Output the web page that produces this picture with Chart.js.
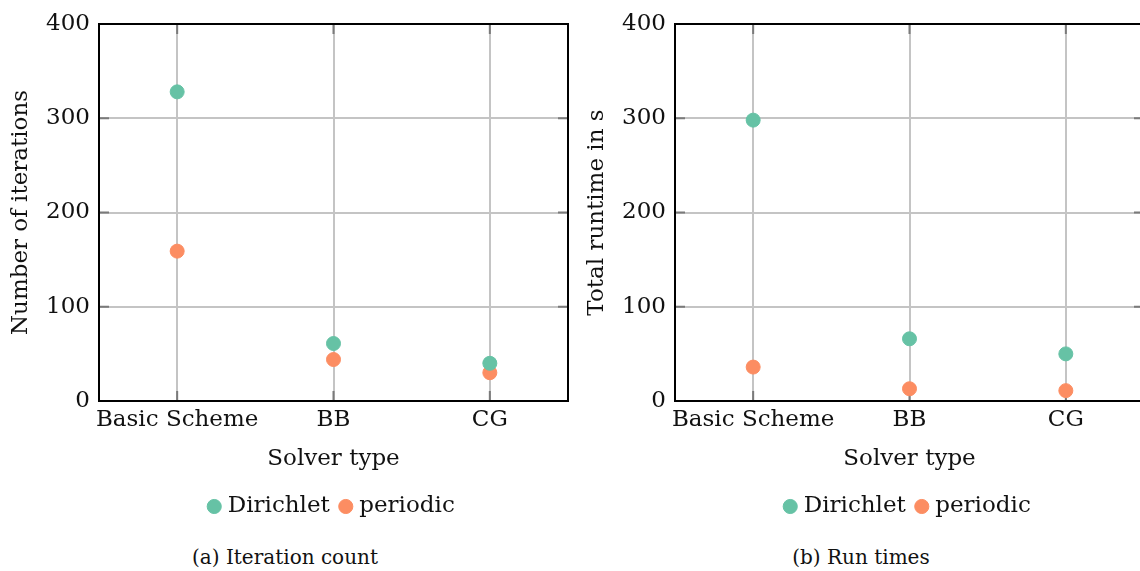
<!DOCTYPE html>
<html>
<head>
<meta charset="utf-8">
<script src="https://cdn.jsdelivr.net/npm/chart.js@4.4.1/dist/chart.umd.min.js"></script>
<style>
  html, body { margin: 0; padding: 0; background: #fff; }
  body { width: 1140px; height: 571px; overflow: hidden; position: relative; }
  .panel { position: absolute; top: 0; width: 576px; height: 528px; }
  .caption { position: absolute; top: 545px; width: 576px; text-align: center;
             font-family: "DejaVu Serif", serif; font-size: 20px; color: #111; }
</style>
</head>
<body>
<div class="panel" style="left:0"><canvas id="chartIter"></canvas></div>
<div class="panel" style="left:576px"><canvas id="chartTime"></canvas></div>
<div class="caption" style="left:-3px">(a) Iteration count</div>
<div class="caption" style="left:573px">(b) Run times</div>
<script>
// solver types on the x axis
const solvers = ['Basic Scheme', 'BB', 'CG'];
const seriesNames = ['Dirichlet', 'periodic'];
const yTicks = [0, 100, 200, 300, 400];

// (a) number of iterations
const iterDirichlet = [328, 61, 40];
const iterPeriodic = [159, 44, 30];

// (b) total runtime in s
const timeDirichlet = [298, 66, 50];
const timePeriodic = [36, 13, 11];

const green = '#66c2a5';
const orange = '#fc8d62';
const fontFam = '"DejaVu Serif", serif';
const fSize = 23;

// frame round the plot + short inner tick marks (like pgfplots)
const framePlugin = {
  id: 'frame',
  beforeDatasetsDraw(chart) {
    const c = chart.ctx, a = chart.chartArea;
    const xs = chart.scales.x, ys = chart.scales.y;
    c.save();
    c.strokeStyle = '#7a7a7a';
    c.lineWidth = 2;
    c.beginPath();
    xs.ticks.forEach((t, i) => {
      let px = xs.getPixelForTick(i);
      c.moveTo(px, a.bottom); c.lineTo(px, a.bottom - 10);
      c.moveTo(px, a.top); c.lineTo(px, a.top + 10);
    });
    ys.ticks.forEach((t, i) => {
      let py = ys.getPixelForTick(i);
      c.moveTo(a.left, py); c.lineTo(a.left + 10, py);
      c.moveTo(a.right, py); c.lineTo(a.right - 10, py);
    });
    c.stroke();
    c.strokeStyle = '#000';
    c.lineWidth = 2;
    c.strokeRect(a.left, a.top, a.right - a.left, a.bottom - a.top);
    c.restore();
  }
};

function setChart(d1, d2, yTitle) {
  return {
    type: 'scatter',
    data: {
      labels: solvers,
      datasets: [{
        label: seriesNames[0],
        data: d1,
        backgroundColor: green,
        borderColor: green,
        pointRadius: 7,
        pointHoverRadius: 7
      }, {
        label: seriesNames[1],
        data: d2,
        backgroundColor: orange,
        borderColor: orange,
        pointRadius: 7,
        pointHoverRadius: 7
      }]
    },
    options: {
      responsive: false,
      animation: false,
      layout: { padding: { top: 24, right: 6, left: 0, bottom: 0 } },
      plugins: {
        tooltip: { enabled: false },
        legend: {
          position: 'bottom',
          fullSize: false,
          labels: {
            usePointStyle: true,
            pointStyle: 'circle',
            boxWidth: 4,
            boxHeight: 10,
            padding: 14,
            color: '#111',
            font: { family: fontFam, size: fSize }
          }
        }
      },
      scales: {
        x: {
          type: 'category',
          offset: true,
          grid: { color: '#c4c4c4', lineWidth: 2, drawTicks: false, offset: false },
          border: { display: false },
          ticks: { color: '#111', padding: 5, maxRotation: 0, minRotation: 0, autoSkip: false,
                   font: { family: fontFam, size: fSize } },
          title: { display: true, text: 'Solver type', color: '#111', padding: { top: 6, bottom: 8 },
                   font: { family: fontFam, size: fSize } },
          afterFit: s => { s.height = 80; s.paddingLeft = 0; s.paddingRight = 0; }
        },
        y: {
          min: 0, max: 400,
          afterBuildTicks: s => { s.ticks = yTicks.map(v => ({ value: v })); },
          grid: { color: '#c4c4c4', lineWidth: 2, drawTicks: false },
          border: { display: false },
          ticks: { color: '#111', padding: 9, font: { family: fontFam, size: fSize } },
          title: { display: true, text: yTitle, color: '#111', padding: { top: 7, bottom: 4 },
                   font: { family: fontFam, size: fSize } },
          afterFit: s => { s.width = 99; s.paddingTop = 0; s.paddingBottom = 0; }
        }
      }
    },
    plugins: [framePlugin]
  };
}

const cv1 = document.getElementById('chartIter');
const cv2 = document.getElementById('chartTime');
[cv1, cv2].forEach(cv => { cv.width = 576; cv.height = 528; });

new Chart(cv1, setChart(iterDirichlet, iterPeriodic, 'Number of iterations'));
new Chart(cv2, setChart(timeDirichlet, timePeriodic, 'Total runtime in s'));
</script>
</body>
</html>
